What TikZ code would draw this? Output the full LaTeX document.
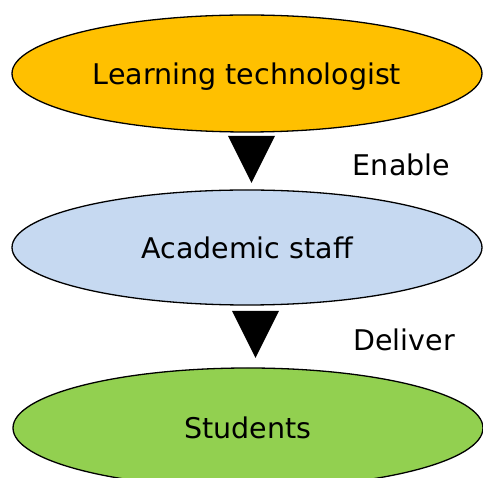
\documentclass[tikz,border=0pt]{standalone}
\usepackage{fontspec}
\setmainfont{DejaVu Sans}
\usetikzlibrary{shapes.geometric}
\definecolor{lorange}{HTML}{FFC000}
\definecolor{lblue}{HTML}{C6D9F1}
\definecolor{lgreen}{HTML}{92D050}
\begin{document}
\begin{tikzpicture}[x=1pt,y=-1pt,
  blob/.style={ellipse, draw=black, line width=1.3pt, minimum width=470pt, inner sep=0pt, text depth=0pt, font=\fontsize{28.5}{32}\selectfont},
  lbl/.style={font=\fontsize{28.5}{32}\selectfont, inner sep=0pt},
  tri/.style={fill=black}]
\useasboundingbox (0,0) rectangle (483,478);
\clip (0,0) rectangle (483,478);
\node[blob, fill=lorange, minimum height=117pt] (lt) at (247,73.5) {Learning technologist};
\node[blob, fill=lblue, minimum height=115pt] (as) at (247,247.5) {Academic staff};
\node[blob, fill=lgreen, minimum height=120pt] (st) at (248,428) {Students};
\coordinate (t1a) at (228,136);
\coordinate (t1b) at (275,136);
\coordinate (t1c) at (251.5,183);
\fill[tri] (t1a) -- (t1b) -- (t1c) -- cycle;
\coordinate (t2a) at (232,311);
\coordinate (t2b) at (279,311);
\coordinate (t2c) at (255.5,358);
\fill[tri] (t2a) -- (t2b) -- (t2c) -- cycle;
\node[lbl] (en) at (401.5,165) {Enable};
\node[lbl] (de) at (404,340) {Deliver};
\end{tikzpicture}
\end{document}
